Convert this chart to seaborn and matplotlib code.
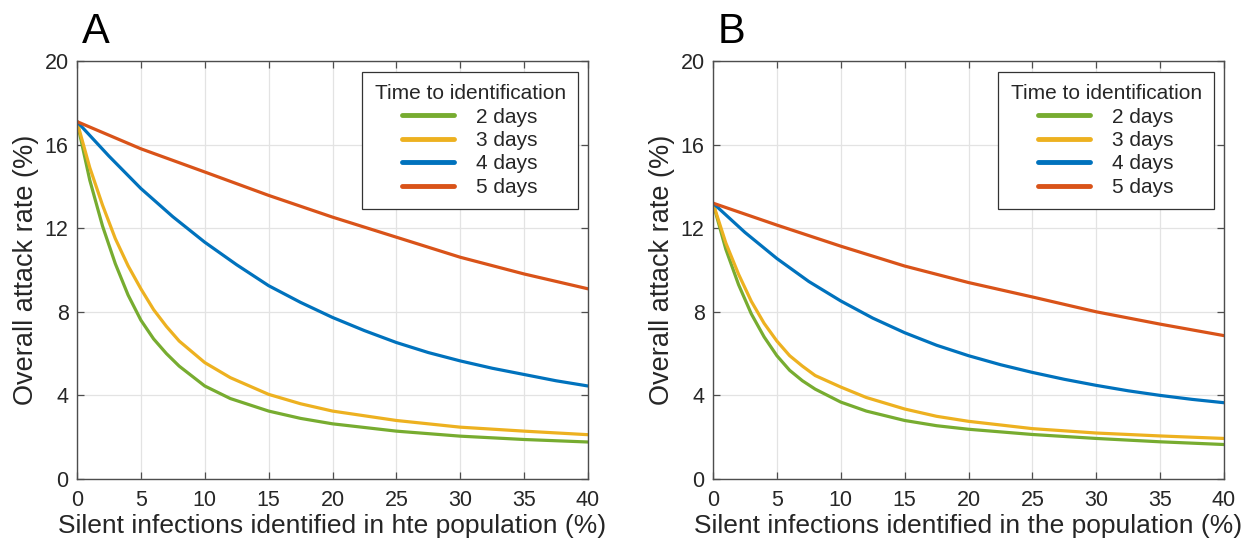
import numpy as np
import pandas as pd
import matplotlib
matplotlib.use("Agg")
import matplotlib.pyplot as plt
import seaborn as sns

# ---------------- data ----------------
days_labels = ["2 days", "3 days", "4 days", "5 days"]
colors = ["#77AC30", "#EDB120", "#0072BD", "#D95319"]

x_fast = [0, 1, 2, 3, 4, 5, 6, 7, 8, 10, 12, 15, 17.5, 20, 25, 30, 35, 40]
x_mid = [0, 2.5, 5, 7.5, 10, 12.5, 15, 17.5, 20, 22.5, 25, 27.5, 30, 32.5, 35, 37.5, 40]
x_slow = [0, 5, 10, 15, 20, 25, 30, 35, 40]

# Panel A
a_2days = [17.1, 14.3, 12.1, 10.3, 8.8, 7.6, 6.7, 6.0, 5.4, 4.45, 3.85, 3.25, 2.9, 2.64, 2.29, 2.05, 1.89, 1.77]
a_3days = [17.1, 14.9, 13.1, 11.5, 10.2, 9.1, 8.1, 7.3, 6.6, 5.57, 4.85, 4.05, 3.6, 3.25, 2.8, 2.48, 2.29, 2.12]
a_4days = [17.1, 15.45, 13.9, 12.55, 11.33, 10.25, 9.25, 8.45, 7.73, 7.1, 6.53, 6.05, 5.65, 5.3, 5.0, 4.7, 4.45]
a_5days = [17.1, 15.8, 14.69, 13.57, 12.53, 11.57, 10.61, 9.81, 9.1]

# Panel B
b_2days = [13.2, 11.0, 9.3, 7.9, 6.8, 5.9, 5.2, 4.7, 4.3, 3.68, 3.25, 2.8, 2.55, 2.38, 2.13, 1.94, 1.78, 1.65]
b_3days = [13.2, 11.3, 9.8, 8.5, 7.45, 6.6, 5.9, 5.4, 4.95, 4.4, 3.9, 3.35, 3.0, 2.76, 2.41, 2.2, 2.06, 1.94]
b_4days = [13.2, 11.8, 10.55, 9.45, 8.52, 7.7, 7.0, 6.4, 5.9, 5.47, 5.1, 4.77, 4.48, 4.22, 4.0, 3.81, 3.65]
b_5days = [13.2, 12.15, 11.14, 10.19, 9.4, 8.71, 8.0, 7.41, 6.86]

x_ticks = [0, 5, 10, 15, 20, 25, 30, 35, 40]
y_ticks = [0, 4, 8, 12, 16, 20]

xlabel_a = "Silent infections identified in hte population (%)"
xlabel_b = "Silent infections identified in the population (%)"
ylabel = "Overall attack rate (%)"
legend_title = "Time to identification"


def make_frame(series):
    rows = []
    for lab, xs, ys in series:
        for xv, yv in zip(xs, ys):
            rows.append({"x": xv, "y": yv, "Time": lab})
    return pd.DataFrame(rows)


df_a = make_frame([(days_labels[0], x_fast, a_2days), (days_labels[1], x_fast, a_3days),
                   (days_labels[2], x_mid, a_4days), (days_labels[3], x_slow, a_5days)])
df_b = make_frame([(days_labels[0], x_fast, b_2days), (days_labels[1], x_fast, b_3days),
                   (days_labels[2], x_mid, b_4days), (days_labels[3], x_slow, b_5days)])

sns.set_theme(style="whitegrid")
plt.rcParams["font.family"] = ["Liberation Sans", "DejaVu Sans"]

fig = plt.figure(figsize=(12.45, 5.5), dpi=100)
ax_a = fig.add_axes([77 / 1245, 71 / 550, 511 / 1245, 418 / 550])
ax_b = fig.add_axes([713 / 1245, 71 / 550, 511 / 1245, 418 / 550])

palette = dict(zip(days_labels, colors))

for ax, df, xl, letter in [(ax_a, df_a, xlabel_a, "A"), (ax_b, df_b, xlabel_b, "B")]:
    sns.lineplot(data=df, x="x", y="y", hue="Time", hue_order=days_labels,
                 palette=palette, linewidth=2.3, ax=ax, legend=True)
    ax.set_xlim(0, 40)
    ax.set_ylim(0, 20)
    ax.set_xticks(x_ticks)
    ax.set_yticks(y_ticks)
    ax.set_facecolor("white")
    ax.grid(True, color="#e3e3e3", linewidth=0.9)
    for s in ax.spines.values():
        s.set_visible(True)
        s.set_color("#4d4d4d")
        s.set_linewidth(1.0)
    ax.tick_params(axis="both", direction="in", length=5, width=0.9, color="#4d4d4d",
                   labelsize=15.5, labelcolor="#262626", top=True, right=True,
                   bottom=True, left=True)
    ax.tick_params(axis="x", pad=8)
    ax.tick_params(axis="y", pad=6)
    ax.set_xlabel(xl, fontsize=19, color="#262626", labelpad=2)
    ax.set_ylabel(ylabel, fontsize=19.5, color="#262626", labelpad=4)
    ax.text(0.01, 1.043, letter, transform=ax.transAxes, fontsize=30,
            ha="left", va="baseline", color="black")
    leg = ax.legend(title=legend_title, loc="upper right", bbox_to_anchor=(0.981, 0.974),
                    borderaxespad=0, fontsize=15, title_fontsize=15, frameon=True,
                    fancybox=False, framealpha=1, edgecolor="#333333", handlelength=2.45,
                    handletextpad=1.1, borderpad=0.6, labelspacing=0.21)
    leg.get_frame().set_linewidth(0.9)
    for line in leg.get_lines():
        line.set_linewidth(3.5)

fig.savefig("out.png", dpi=100)
